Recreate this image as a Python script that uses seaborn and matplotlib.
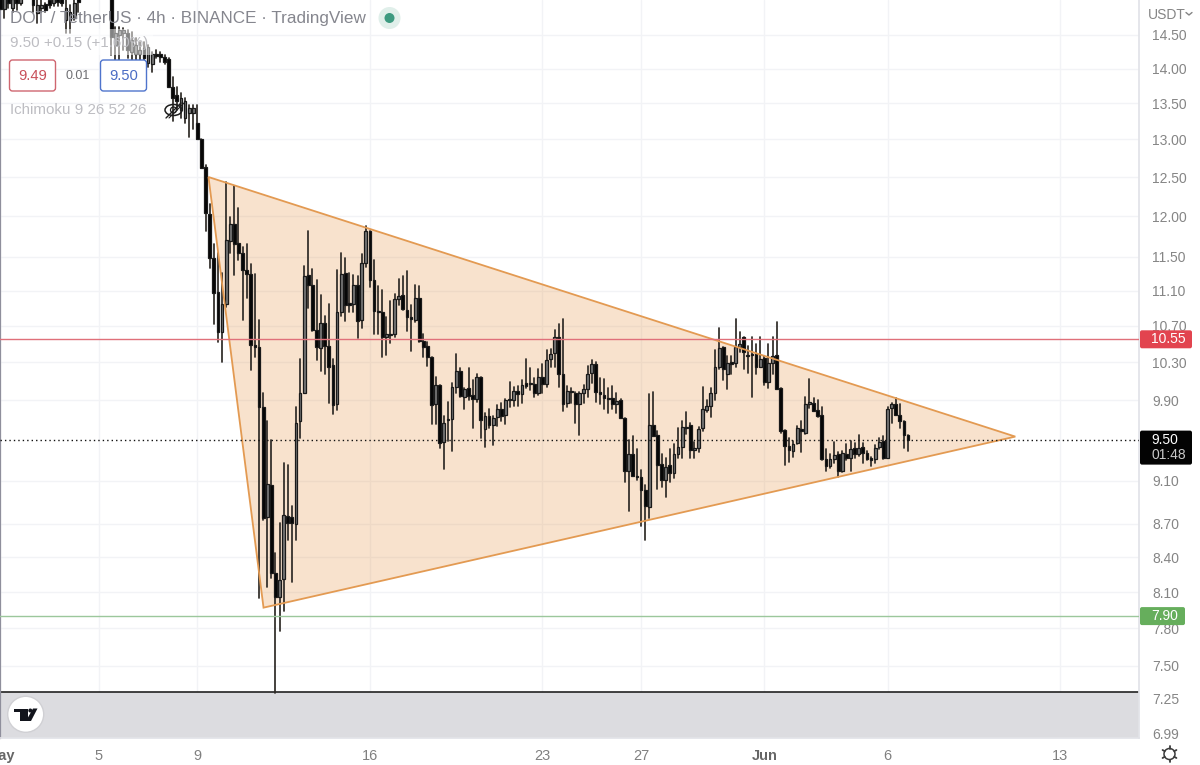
import numpy as np
import pandas as pd
import matplotlib
matplotlib.use("Agg")
import matplotlib.pyplot as plt
import seaborn as sns
from matplotlib.patches import Circle, Ellipse, FancyBboxPatch, Polygon, Rectangle

# 4h candles, first one at 1 May, rows of ten
opens = [
    15.20, 14.90, 15.08, 14.92, 15.10, 15.00, 15.12, 15.30, 15.10, 14.84,
    14.92, 14.98, 15.04, 15.00, 15.07, 15.10, 14.73, 14.73, 14.76, 15.08,
    15.20, 15.12, 15.35, 15.22, 15.42, 15.35, 15.30, 15.20, 14.35, 14.50,
    14.53, 14.53, 14.24, 14.21, 14.21, 14.30, 14.08, 14.06, 14.22, 14.21,
    14.17, 14.14, 13.73, 13.62, 13.40, 13.30, 13.36, 13.36, 13.23, 13.00,
    12.63, 12.03, 11.48, 11.08, 10.63, 10.95, 11.69, 11.90, 11.67, 11.54,
    11.34, 11.30, 10.49, 10.46, 9.83, 8.76, 9.06, 8.26, 8.06, 8.21,
    8.77, 8.76, 8.70, 9.69, 9.97, 11.28, 11.17, 10.65, 10.45, 10.73,
    10.48, 10.27, 9.86, 10.85, 11.31, 10.96, 10.95, 11.17, 10.76, 11.42,
    11.82, 11.23, 10.87, 10.85, 10.58, 10.60, 10.61, 11.00, 11.05, 10.88,
    10.80, 10.77, 11.02, 10.53, 10.48, 10.36, 9.86, 10.06, 9.48, 9.70,
    9.71, 10.04, 10.21, 9.93, 10.03, 9.95, 9.91, 10.14, 9.61, 9.74,
    9.65, 9.73, 9.81, 9.75, 9.90, 9.90, 9.99, 9.96, 10.08, 10.07,
    10.07, 9.97, 10.14, 10.07, 10.33, 10.40, 10.58, 10.17, 9.87, 9.99,
    9.97, 9.86, 9.97, 10.02, 10.18, 10.28, 9.98, 9.95, 9.92, 9.92,
    9.86, 9.90, 9.72, 9.19, 9.36, 9.15, 9.14, 9.01, 8.85, 9.65,
    9.55, 9.26, 9.11, 9.25, 9.17, 9.36, 9.43, 9.62, 9.65, 9.40,
    9.42, 9.62, 9.80, 9.84, 9.97, 10.25, 10.46, 10.17, 10.30, 10.29,
    10.46, 10.58, 10.38, 10.39, 10.39, 10.25, 10.35, 10.09, 10.29, 10.38,
    10.03, 9.60, 9.44, 9.39, 9.47, 9.61, 9.57, 9.86, 9.87, 9.80,
    9.75, 9.31, 9.24, 9.31, 9.36, 9.19, 9.36, 9.32, 9.42, 9.36,
    9.43, 9.37, 9.32, 9.31, 9.43, 9.49, 9.32, 9.82, 9.86, 9.75,
    9.69, 9.55,
]
highs = [
    15.30, 15.30, 15.20, 15.20, 15.20, 15.20, 15.35, 15.40, 15.25, 15.05,
    15.05, 15.00, 15.15, 15.20, 15.15, 15.20, 15.04, 14.96, 15.10, 15.20,
    15.30, 15.40, 15.45, 15.50, 15.55, 15.50, 15.45, 15.30, 14.62, 14.62,
    14.61, 14.57, 14.54, 14.45, 14.39, 14.39, 14.35, 14.24, 14.27, 14.24,
    14.20, 14.15, 13.87, 13.73, 13.65, 13.58, 13.47, 13.47, 13.47, 13.00,
    12.66, 12.15, 11.66, 11.55, 11.31, 12.43, 11.99, 12.38, 12.10, 11.62,
    11.65, 11.41, 11.29, 10.76, 9.97, 9.69, 9.50, 8.44, 8.71, 9.27,
    9.25, 8.86, 9.83, 10.34, 11.39, 11.81, 11.35, 11.22, 11.05, 10.81,
    10.95, 10.34, 11.34, 11.54, 11.48, 11.31, 11.28, 11.27, 11.53, 11.88,
    11.82, 11.46, 11.16, 11.11, 10.80, 10.98, 11.06, 11.24, 11.27, 11.33,
    10.94, 11.17, 11.16, 10.61, 10.52, 10.36, 10.14, 10.06, 9.74, 9.88,
    10.08, 10.39, 10.24, 10.03, 10.24, 10.11, 10.17, 10.14, 9.77, 9.81,
    9.74, 9.85, 9.87, 9.91, 10.09, 10.04, 10.05, 10.11, 10.33, 10.24,
    10.13, 10.23, 10.28, 10.43, 10.44, 10.65, 10.72, 10.78, 10.05, 10.03,
    9.98, 9.98, 10.06, 10.26, 10.32, 10.30, 10.13, 10.12, 10.03, 10.05,
    9.97, 9.91, 9.72, 9.50, 9.54, 9.41, 9.20, 9.06, 9.96, 9.98,
    9.59, 9.36, 9.32, 9.41, 9.46, 9.62, 9.69, 9.78, 9.67, 9.48,
    9.63, 10.04, 9.90, 10.03, 10.43, 10.67, 10.47, 10.37, 10.37, 10.78,
    10.63, 10.58, 10.48, 10.57, 10.50, 10.57, 10.37, 10.50, 10.57, 10.74,
    10.03, 9.60, 9.52, 9.49, 9.64, 9.69, 9.93, 10.12, 9.92, 9.90,
    9.83, 9.41, 9.36, 9.48, 9.38, 9.39, 9.46, 9.49, 9.47, 9.55,
    9.47, 9.39, 9.33, 9.45, 9.52, 9.54, 9.83, 9.87, 9.92, 9.86,
    9.69, 9.55,
]
lows = [
    14.50, 14.76, 14.92, 14.86, 14.88, 14.96, 15.08, 15.10, 14.85, 14.68,
    14.85, 14.86, 14.92, 14.95, 14.95, 14.95, 14.53, 14.53, 14.73, 14.86,
    15.06, 15.08, 15.15, 15.18, 15.25, 15.20, 15.15, 14.20, 14.12, 14.12,
    14.27, 14.15, 14.12, 14.12, 14.12, 14.09, 14.02, 13.95, 14.15, 14.09,
    14.06, 13.73, 13.26, 13.40, 13.29, 13.23, 13.03, 13.15, 13.00, 12.62,
    11.81, 11.37, 10.72, 10.52, 10.30, 10.91, 11.54, 11.28, 11.46, 10.77,
    11.01, 10.22, 10.36, 8.05, 8.73, 8.14, 8.22, 7.29, 7.78, 7.94,
    8.55, 8.19, 8.55, 9.52, 9.97, 10.90, 10.64, 10.32, 10.21, 10.17,
    9.87, 9.76, 9.80, 10.81, 10.75, 10.85, 10.85, 10.56, 10.68, 11.38,
    11.14, 10.61, 10.61, 10.36, 10.38, 10.51, 10.57, 10.93, 10.88, 10.64,
    10.42, 10.74, 10.52, 10.36, 10.26, 9.66, 9.66, 9.42, 9.21, 9.49,
    9.39, 9.97, 9.93, 9.81, 9.90, 9.62, 9.88, 9.52, 9.43, 9.62,
    9.45, 9.64, 9.69, 9.66, 9.83, 9.84, 9.84, 9.87, 10.03, 10.01,
    9.93, 9.95, 9.97, 10.04, 10.25, 10.25, 10.04, 9.79, 9.83, 9.87,
    9.67, 9.55, 9.87, 9.93, 10.08, 9.88, 9.86, 9.81, 9.77, 9.81,
    9.77, 9.72, 9.09, 8.82, 9.15, 9.11, 8.68, 8.55, 8.75, 9.54,
    9.02, 9.04, 8.95, 9.09, 9.13, 9.32, 9.32, 9.56, 9.32, 9.32,
    9.38, 9.59, 9.78, 9.73, 9.90, 10.23, 10.11, 10.02, 10.17, 10.25,
    10.41, 10.23, 10.18, 9.93, 10.17, 10.25, 10.06, 10.03, 10.17, 10.02,
    9.57, 9.25, 9.28, 9.33, 9.46, 9.38, 9.56, 9.82, 9.79, 9.73,
    9.30, 9.19, 9.22, 9.27, 9.14, 9.18, 9.30, 9.19, 9.32, 9.34,
    9.27, 9.30, 9.24, 9.27, 9.41, 9.31, 9.32, 9.67, 9.75, 9.62,
    9.42, 9.39,
]
closes = [
    14.90, 15.15, 15.00, 15.05, 15.00, 15.10, 15.25, 15.20, 14.96, 14.96,
    14.96, 14.88, 14.96, 15.08, 15.01, 15.00, 14.92, 14.86, 15.00, 15.01,
    15.10, 15.30, 15.22, 15.40, 15.30, 15.28, 15.20, 14.47, 14.53, 14.57,
    14.57, 14.27, 14.42, 14.35, 14.27, 14.15, 14.32, 14.21, 14.19, 14.17,
    14.09, 13.73, 13.58, 13.54, 13.58, 13.54, 13.44, 13.44, 13.00, 12.62,
    12.04, 11.48, 11.07, 10.63, 10.95, 11.70, 11.90, 11.66, 11.54, 11.34,
    11.30, 10.49, 10.46, 9.83, 8.75, 9.07, 8.26, 8.06, 8.20, 8.78,
    8.71, 8.71, 9.67, 9.97, 11.27, 11.17, 10.65, 10.46, 10.73, 10.48,
    10.25, 9.85, 10.85, 11.30, 10.93, 10.93, 11.17, 10.75, 11.42, 11.82,
    11.23, 10.87, 10.85, 10.58, 10.61, 10.61, 11.00, 11.04, 10.89, 10.80,
    10.78, 11.02, 10.53, 10.47, 10.36, 9.85, 10.06, 9.47, 9.67, 9.71,
    10.04, 10.21, 9.94, 10.02, 9.94, 9.91, 10.14, 9.70, 9.74, 9.65,
    9.72, 9.81, 9.74, 9.90, 9.91, 9.99, 9.96, 10.06, 10.05, 10.08,
    9.97, 10.14, 10.07, 10.32, 10.39, 10.58, 10.17, 9.86, 9.99, 9.98,
    9.86, 9.97, 10.02, 10.17, 10.28, 9.98, 9.96, 9.92, 9.91, 9.86,
    9.89, 9.72, 9.19, 9.36, 9.15, 9.14, 9.01, 8.86, 9.65, 9.54,
    9.25, 9.11, 9.23, 9.17, 9.36, 9.43, 9.63, 9.63, 9.40, 9.42,
    9.61, 9.81, 9.84, 9.97, 10.25, 10.45, 10.23, 10.29, 10.28, 10.46,
    10.50, 10.41, 10.37, 10.38, 10.25, 10.33, 10.09, 10.29, 10.37, 10.02,
    9.59, 9.44, 9.40, 9.46, 9.62, 9.59, 9.86, 9.88, 9.79, 9.74,
    9.31, 9.24, 9.31, 9.35, 9.19, 9.37, 9.32, 9.41, 9.36, 9.42,
    9.37, 9.31, 9.30, 9.42, 9.48, 9.32, 9.81, 9.86, 9.75, 9.69,
    9.55, 9.50,
]

# triangle drawing: candle number from 1 May, price
triangle_candles = [50.7, 64.1, 247.1]
triangle_prices = [12.50, 7.97, 9.53]

last_price = 9.50
resistance = 10.55
support = 7.90
pane_top = 7.30

price_ticks = [14.5, 14.0, 13.5, 13.0, 12.5, 12.0, 11.5, 11.1, 10.7, 10.3, 9.9,
               9.1, 8.7, 8.4, 8.1, 7.8, 7.5, 7.25, 6.99]
day_ticks = [1, 5, 9, 16, 23, 27, 32, 37, 44]     # days counted from 1 May
day_labels = ["May", "5", "9", "16", "23", "27", "Jun", "6", "13"]

sns.set_theme(style="white")
plt.rcParams["font.family"] = ["Liberation Sans", "DejaVu Sans"]

candles_per_day = 6
candle = np.arange(len(opens))
df = pd.DataFrame({"candle": candle, "open": opens, "high": highs, "low": lows, "close": closes})
wicks = df.melt(id_vars="candle", value_vars=["high", "low"], value_name="price")

W, H = 1200, 765
fig = plt.figure(figsize=(W / 100, H / 100), dpi=100, facecolor="white")
ax = fig.add_axes([0, (H - 738) / H, 1139 / W, 738 / H])
ax.set_yscale("log")

# grey pane under the chart
ax.axhspan(6.5, pane_top, color="#dcdce0", lw=0, zorder=1)
ax.axhline(pane_top, color="#222222", lw=1.2, zorder=1.5)

# triangle fill goes under the candles, its outline on top
ax.fill(triangle_candles, triangle_prices, facecolor="#e07f1e", alpha=0.22, lw=0, zorder=1.8)

sns.lineplot(data=wicks, x="candle", y="price", units="candle", estimator=None,
             color="#2e2a26", lw=1.25, sort=False, legend=False, ax=ax, zorder=2)

# bodies: black when falling, grey when rising
rising = df["close"] >= df["open"]
ax.bar(df["candle"], (df["close"] - df["open"]).abs(), bottom=df[["open", "close"]].min(axis=1),
       width=0.68, color=np.where(rising, "#777777", "#050505"),
       edgecolor="#1a1a1a", lw=0.9, zorder=3)

ax.fill(triangle_candles, triangle_prices, fill=False, edgecolor="#e39a52", lw=1.3, zorder=4.5)

ax.axhline(resistance, color="#e0707a", lw=1, zorder=5)
ax.axhline(support, color="#9cc79c", lw=1, zorder=5)
ax.axhline(last_price, color="#111111", lw=1, ls=(0, (1, 2.2)), zorder=5)

ax.set_xlim(-0.05, 1139 / 4.108 - 0.05)
ax.set_ylim(6.955, 15.04)
ax.set_xlabel("")
ax.set_ylabel("")
ax.yaxis.tick_right()
ax.set_yticks(price_ticks)
ax.set_yticklabels([f"{p:.2f}" for p in price_ticks], color="#858585", fontsize=10)
ax.minorticks_off()
ax.set_xticks([(d - 1) * candles_per_day for d in day_ticks])
ax.set_xticklabels(day_labels, color="#808080", fontsize=10.5)
for lab in ax.get_xticklabels():
    if lab.get_text() in ("May", "Jun"):
        lab.set_fontweight("bold")
        lab.set_color("#666666")
ax.tick_params(axis="y", length=0, pad=9.5)
ax.tick_params(axis="x", length=0, pad=8)
ax.grid(True, color="#f2f3f6", lw=1)
ax.set_axisbelow(True)
for side in ("top", "right", "bottom"):
    ax.spines[side].set_color("#e2e3e8")
ax.spines["top"].set_visible(False)
ax.spines["left"].set_color("#8f8f9c")
ax.spines["left"].set_linewidth(1.6)

# overlay in picture pixels for the chart furniture
ov = fig.add_axes([0, 0, 1, 1])
ov.set_xlim(0, W)
ov.set_ylim(H, 0)
ov.axis("off")
ov.patch.set_alpha(0)


def price_y(price):
    return H - ax.transData.transform((0, price))[1]


def price_box(price, lines, color, width, height):
    y = price_y(price)
    top = y - 9
    ov.add_patch(FancyBboxPatch((1140, top), width - 2, height, boxstyle="round,pad=0,rounding_size=2",
                                fc=color, ec="none", zorder=6))
    for n, (txt, col) in enumerate(lines):
        ov.text(1151, y + n * 15, txt, color=col, fontsize=10, va="center", ha="left", zorder=7)


price_box(resistance, [("10.55", "white")], "#e2444f", 54, 18)
price_box(last_price, [("9.50", "white"), ("01:48", "#c9c9c9")], "#030303", 54, 34)
price_box(support, [("7.90", "white")], "#66ae5c", 47, 18)

# legend block, the row under the title washes out the candles behind it
ov.add_patch(Rectangle((3, 29), 150, 26, fc="white", alpha=0.5, ec="none"))
ov.text(10, 18, "DOT / TetherUS · 4h · BINANCE · TradingView", color="#85868e", fontsize=12.3, va="center")
ov.add_patch(Circle((389.5, 18), 11, fc="#e0efea", ec="none"))
ov.add_patch(Circle((389.5, 18), 5, fc="#3d9a80", ec="none"))
ov.text(10, 43, "9.50 +0.15 (+1.60%)", color="#bdbdc2", fontsize=10.9, va="center")
ov.add_patch(FancyBboxPatch((9.5, 60), 46, 31, boxstyle="round,pad=0,rounding_size=3", fc="white", ec="#cf6670", lw=1))
ov.text(32.5, 76, "9.49", color="#c8505a", fontsize=10.6, va="center", ha="center")
ov.text(77.5, 76, "0.01", color="#6e6e72", fontsize=9, va="center", ha="center")
ov.add_patch(FancyBboxPatch((100.5, 60), 46, 31, boxstyle="round,pad=0,rounding_size=3", fc="white", ec="#4f74cc", lw=1))
ov.text(123.5, 76, "9.50", color="#4a6cc4", fontsize=10.6, va="center", ha="center")
ov.text(10, 110, "Ichimoku 9 26 52 26", color="#bdbdc2", fontsize=10.9, va="center")

# crossed eye
ov.add_patch(Ellipse((173.5, 110), 17, 11, fc="none", ec="#1d1d1d", lw=1.1))
ov.add_patch(Circle((173.5, 110), 3, fc="none", ec="#1d1d1d", lw=0.9))
ov.plot([166, 181], [118, 103], color="#1d1d1d", lw=1)
ov.plot([169, 184], [118, 103], color="#1d1d1d", lw=0.8)

# TradingView badge
ov.add_patch(Circle((25.7, 714.3), 18, fc="white", ec="#d0d0d4", lw=1))
ov.add_patch(Polygon([(13.5, 708.5), (27.5, 708.5), (27.5, 721), (20, 721), (20, 712), (13.5, 712)], fc="#12141c", ec="none"))
ov.add_patch(Circle((30.3, 710.5), 2, fc="#12141c", ec="none"))
ov.add_patch(Polygon([(33, 708.5), (37.5, 708.5), (31, 721), (26, 721)], fc="#12141c", ec="none"))

# price scale header and corner gear
ov.text(1148, 14.5, "USDT", color="#858585", fontsize=10, va="center")
ov.plot([1186, 1189, 1192], [12.5, 15, 12.5], color="#858585", lw=1)
ov.add_patch(Circle((1169.5, 754), 5.5, fc="none", ec="#3a3a3a", lw=1.1))
for a in np.deg2rad(np.arange(0, 360, 60) + 30):
    ov.plot([1169.5 + 5.5 * np.cos(a), 1169.5 + 8 * np.cos(a)],
            [754 + 5.5 * np.sin(a), 754 + 8 * np.sin(a)], color="#3a3a3a", lw=1.3)

fig.savefig("out.png", dpi=100, facecolor="white")
